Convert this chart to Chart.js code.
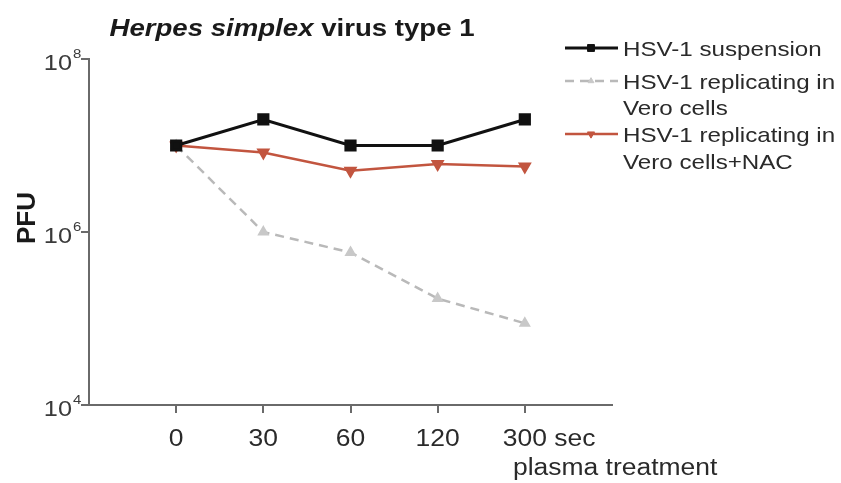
<!DOCTYPE html>
<html>
<head>
<meta charset="utf-8">
<script src="https://cdn.jsdelivr.net/npm/chart.js@4"></script>
<style>
  html, body { margin: 0; padding: 0; background: #fff; }
  #wrap { width: 841px; height: 483px; }
</style>
</head>
<body>
<div id="wrap"><canvas id="myChart" width="841" height="483"></canvas></div>
<script>
// data
const times = ['0', '30', '60', '120', '300']
const timeUnit = 'sec'
const suspension = [1e7, 2e7, 1e7, 1e7, 2e7]
const vero = [1e7, 1.0e6, 5.8e5, 1.7e5, 8.8e4]
const veroNac = [1e7, 8.3e6, 5.1e6, 6.1e6, 5.7e6]
const yTicks = [1e4, 1e6, 1e8]
const seriesNames = [
  ['HSV-1 suspension'],
  ['HSV-1 replicating in', 'Vero cells'],
  ['HSV-1 replicating in', 'Vero cells+NAC']
]
const titleItalic = 'Herpes simplex'
const titleRest = ' virus type 1'
const yTitle = 'PFU'
const xTitle = 'plasma treatment'

const FONT = '"Liberation Sans", Arial, Helvetica, sans-serif'
const SX = 1.15   // the figure is a bit wider than tall
const axisColor = '#6a6a6a'
const textColor = '#2a2a2a'

function toPoints(arr) {
  return arr.map((v, i) => ({ x: i, y: v }))
}

// draw text a bit stretched horizontally
function txt(ctx, s, x, y, font, align, color) {
  ctx.save()
  ctx.font = font
  ctx.fillStyle = color || textColor
  ctx.textBaseline = 'alphabetic'
  const w = ctx.measureText(s).width * SX
  let x0 = x
  if (align === 'center') x0 = x - w / 2
  else if (align === 'right') x0 = x - w
  ctx.translate(x0, y)
  ctx.scale(SX, 1)
  ctx.textAlign = 'left'
  ctx.fillText(s, 0, 0)
  ctx.restore()
  return w
}

const textPlugin = {
  id: 'textPlugin',
  afterDraw(chart) {
    const ctx = chart.ctx
    const xs = chart.scales.x
    const ys = chart.scales.y

    // title
    ctx.save()
    const fIt = 'italic bold 24px ' + FONT
    const fB = 'bold 24px ' + FONT
    ctx.font = fIt
    const w1 = ctx.measureText(titleItalic).width * SX
    ctx.font = fB
    const w2 = ctx.measureText(titleRest).width * SX
    ctx.restore()
    const tx = 292 - (w1 + w2) / 2
    txt(ctx, titleItalic, tx, 36, fIt, 'left', '#1a1a1a')
    txt(ctx, titleRest, tx + w1, 36, fB, 'left', '#1a1a1a')

    // x tick labels
    const tf = '23px ' + FONT
    times.forEach((t, i) => {
      const px = xs.getPixelForValue(i)
      if (i === times.length - 1) {
        ctx.save(); ctx.font = tf
        const w = ctx.measureText(t).width * SX
        ctx.restore()
        txt(ctx, t + ' ' + timeUnit, px - w / 2, 446, tf, 'left')
      } else {
        txt(ctx, t, px, 446, tf, 'center')
      }
    })
    txt(ctx, xTitle, 513, 475, '23px ' + FONT, 'left')

    // y tick labels with superscript
    yTicks.forEach(v => {
      const py = ys.getPixelForValue(v)
      const ex = String(Math.round(Math.log10(v)))
      txt(ctx, '10', 72, py + 11, '22px ' + FONT, 'right', '#3a3a3a')
      txt(ctx, ex, 73, py - 1, '13px ' + FONT, 'left', '#3a3a3a')
    })

    // y title
    ctx.save()
    ctx.translate(35, 218)
    ctx.rotate(-Math.PI / 2)
    ctx.font = 'bold 26px ' + FONT
    ctx.fillStyle = '#1a1a1a'
    ctx.textAlign = 'center'
    ctx.textBaseline = 'alphabetic'
    ctx.fillText(yTitle, 0, 0)
    ctx.restore()

    // legend
    const lf = '21px ' + FONT
    const rows = [[48], [81, 107], [134, 161]]
    chart.data.datasets.forEach((ds, di) => {
      const ly = rows[di][0]
      ctx.save()
      ctx.strokeStyle = ds.borderColor
      ctx.lineWidth = ds.borderWidth
      ctx.setLineDash(ds.borderDash || [])
      ctx.beginPath()
      ctx.moveTo(565, ly)
      ctx.lineTo(618, ly)
      ctx.stroke()
      ctx.setLineDash([])
      ctx.fillStyle = ds.pointBackgroundColor
      ctx.strokeStyle = ds.pointBorderColor
      ctx.lineWidth = 1
      Chart.helpers.drawPoint(ctx, {
        pointStyle: ds.pointStyle,
        rotation: ds.pointRotation || 0,
        radius: ds.pointRadius * 0.75,
        borderWidth: 1
      }, 591, ly)
      ctx.restore()
      seriesNames[di].forEach((line, li) => {
        txt(ctx, line, 623, rows[di][li] + 8, lf, 'left')
      })
    })
  }
}

const ctx = document.getElementById('myChart').getContext('2d')
new Chart(ctx, {
  type: 'line',
  data: {
    datasets: [
      {
        label: seriesNames[0].join(' '),
        data: toPoints(suspension),
        borderColor: '#111111',
        borderWidth: 3,
        pointStyle: 'rect',
        pointRadius: 6.5,
        pointBackgroundColor: '#111111',
        pointBorderColor: '#111111'
      },
      {
        label: seriesNames[1].join(' '),
        data: toPoints(vero),
        borderColor: '#b9b9b9',
        borderWidth: 2.5,
        borderDash: [9, 6],
        pointStyle: 'triangle',
        pointRadius: 4.5,
        pointBackgroundColor: '#c8c8c8',
        pointBorderColor: '#c8c8c8'
      },
      {
        label: seriesNames[2].join(' '),
        data: toPoints(veroNac),
        borderColor: '#c2553f',
        borderWidth: 2.5,
        pointStyle: 'triangle',
        pointRotation: 180,
        pointRadius: 5.5,
        pointBackgroundColor: '#c2553f',
        pointBorderColor: '#c2553f'
      }
    ]
  },
  options: {
    responsive: false,
    animation: false,
    layout: { padding: { top: 59, right: 229, left: 0, bottom: 0 } },
    scales: {
      x: {
        type: 'linear',
        min: -1,
        max: 5,
        afterBuildTicks: s => { s.ticks = times.map((t, i) => ({ value: i })) },
        afterFit: s => { s.height = 78 },
        ticks: { display: false },
        grid: {
          drawOnChartArea: false,
          drawTicks: true,
          tickLength: 8,
          color: axisColor,
          lineWidth: 2
        },
        border: { display: true, color: axisColor, width: 2 }
      },
      y: {
        type: 'logarithmic',
        min: 1e4,
        max: 1e8,
        afterBuildTicks: s => { s.ticks = yTicks.map(v => ({ value: v })) },
        afterFit: s => { s.width = 89 },
        ticks: { display: false },
        grid: {
          drawOnChartArea: false,
          drawTicks: true,
          tickLength: 8,
          color: axisColor,
          lineWidth: 2
        },
        border: { display: true, color: axisColor, width: 2 }
      }
    },
    plugins: {
      legend: { display: false },
      tooltip: { enabled: false }
    }
  },
  plugins: [textPlugin]
})
</script>
</body>
</html>
